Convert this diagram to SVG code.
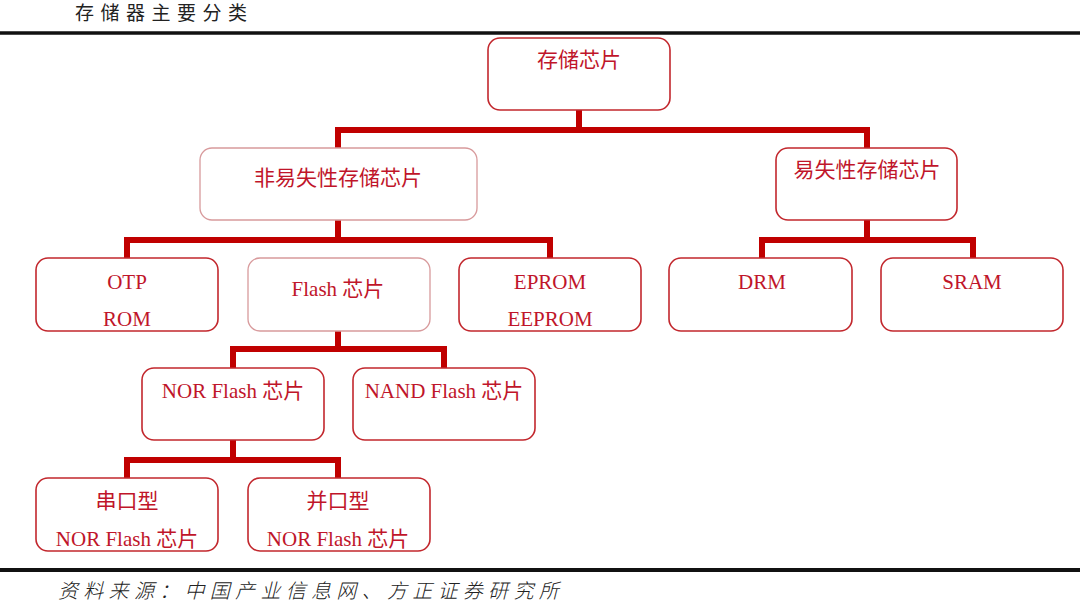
<svg xmlns="http://www.w3.org/2000/svg" width="1080" height="608" viewBox="0 0 1080 608">
<style>
.box{fill:#fff;stroke:#c2272d;stroke-width:1.6}
.lt{stroke:#d89a9c;stroke-width:1.3}
.t{font-family:"Liberation Serif","Noto Sans CJK SC",serif;font-size:21px;fill:#c0152a;text-anchor:middle}
.c{fill:none;stroke:#c00000;stroke-width:6}
.hd{font-family:"Liberation Serif","Noto Sans CJK SC",serif;font-size:19px;fill:#222;letter-spacing:6.5px}
</style>
<rect width="1080" height="608" fill="#fff"/>
<text class="hd" x="75" y="20">存储器主要分类</text>
<line x1="0" y1="33" x2="1080" y2="33" stroke="#111" stroke-width="3.5"/>
<line x1="0" y1="570" x2="1080" y2="570" stroke="#111" stroke-width="4"/>
<text x="58" y="598" font-family="'Noto Sans CJK SC',sans-serif" font-size="20" font-style="italic" fill="#222" letter-spacing="5.3" font-weight="300">资料来源：中国产业信息网、方正证券研究所</text>
<g id="connectors">
<path class="c" d="M579,110V130M338,151V130H867V151"/>
<path class="c" d="M338,220V240M127,261V240H550V261"/>
<path class="c" d="M867,220V240M762,261V240H973V261"/>
<path class="c" d="M338,331V349M233,371V349H444V371"/>
<path class="c" d="M233,440V460M127,481V460H338V481"/>
</g>
<g id="n-root"><rect class="box" x="488" y="38" width="182" height="72" rx="12"/><text class="t" x="579" y="67">存储芯片</text></g>
<g id="n-nonvol"><rect class="box lt" x="200" y="148" width="277" height="72" rx="12"/><text class="t" x="338" y="185">非易失性存储芯片</text></g>
<g id="n-vol"><rect class="box" x="776" y="148" width="181" height="72" rx="12"/><text class="t" x="867" y="177">易失性存储芯片</text></g>
<g id="n-otp"><rect class="box" x="36" y="258" width="182" height="73" rx="12"/><text class="t" x="127" y="289">OTP</text><text class="t" x="127" y="326">ROM</text></g>
<g id="n-flash"><rect class="box lt" x="248" y="258" width="182" height="73" rx="12"/><text class="t" x="338" y="296">Flash  芯片</text></g>
<g id="n-eprom"><rect class="box" x="459" y="258" width="182" height="73" rx="12"/><text class="t" x="550" y="289">EPROM</text><text class="t" x="550" y="326">EEPROM</text></g>
<g id="n-drm"><rect class="box" x="669" y="258" width="183" height="73" rx="12"/><text class="t" x="762" y="289">DRM</text></g>
<g id="n-sram"><rect class="box" x="881" y="258" width="182" height="73" rx="12"/><text class="t" x="972" y="289">SRAM</text></g>
<g id="n-nor"><rect class="box" x="142" y="368" width="182" height="72" rx="12"/><text class="t" x="233" y="398">NOR Flash 芯片</text></g>
<g id="n-nand"><rect class="box" x="353" y="368" width="182" height="72" rx="12"/><text class="t" x="444" y="398">NAND Flash 芯片</text></g>
<g id="n-serial"><rect class="box" x="36" y="478" width="182" height="73" rx="12"/><text class="t" x="127" y="508">串口型</text><text class="t" x="127" y="546">NOR Flash 芯片</text></g>
<g id="n-parallel"><rect class="box" x="248" y="478" width="182" height="73" rx="12"/><text class="t" x="338" y="508">并口型</text><text class="t" x="338" y="546">NOR Flash 芯片</text></g>
</svg>
